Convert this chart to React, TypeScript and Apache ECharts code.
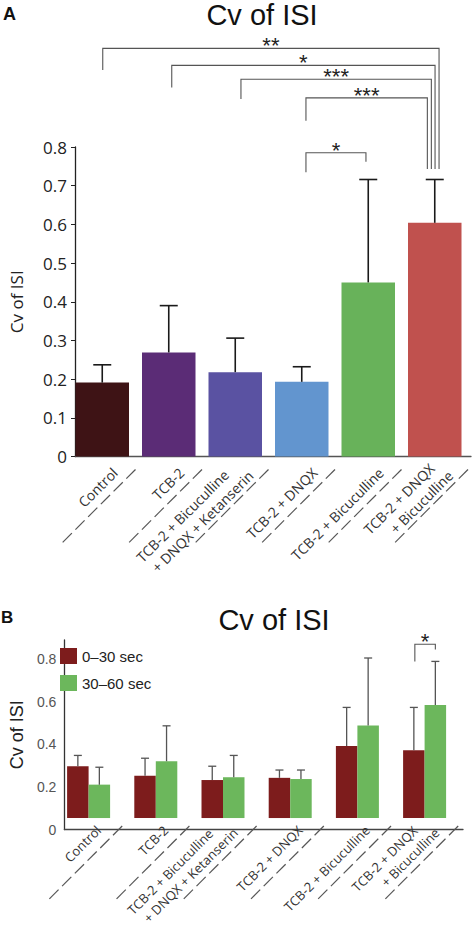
import React, { useEffect, useRef } from 'react';
import * as echarts from 'echarts';

// ---------- data ----------
const categories = [
  'Control',
  'TCB-2',
  'TCB-2 + Bicuculline\n+ DNQX + Ketanserin',
  'TCB-2 + DNQX',
  'TCB-2 + Bicuculline',
  'TCB-2 + DNQX\n+ Bicuculline',
];
const meanA = [0.191, 0.269, 0.218, 0.193, 0.45, 0.604];
const errTopA = [0.237, 0.39, 0.306, 0.232, 0.716, 0.716];
const colorsA = ['#3e1315', '#5b2c76', '#5a52a2', '#6295cf', '#68b25a', '#c0514e'];

const seriesNamesB = ['0\u201330 sec', '30\u201360 sec'];
const mean0to30 = [0.259, 0.212, 0.19, 0.201, 0.36, 0.339];
const errTop0to30 = [0.313, 0.299, 0.259, 0.24, 0.553, 0.553];
const mean30to60 = [0.167, 0.284, 0.204, 0.195, 0.462, 0.565];
const errTop30to60 = [0.254, 0.461, 0.313, 0.24, 0.8, 0.783];
const colorsB = ['#7d1c1c', '#6cb75c'];

// significance brackets: [fromIndex, toIndex, barLevel, leftEnd, rightEnd, label]
const bracketsA: [number, number, number, number, number, string][] = [
  [0, 5, 1.055, 0.999, 0.743, '**'],
  [1, 5, 1.011, 0.954, 0.743, '*'],
  [2, 5, 0.975, 0.924, 0.743, '***'],
  [3, 5, 0.927, 0.868, 0.743, '***'],
  [3, 4, 0.785, 0.735, 0.762, '*'],
];
const bracketsB: [number, number, number, number, number, string][] = [
  [5, 5, 0.869, 0.783, 0.842, '*'],
];

const titleText = 'Cv of ISI';
const yNameA = 'Cv of ISI';
const yNameB = 'Cv of ISI';

// ---------- styling ----------
const BAR_W_A = 53.5;
const BAR_W_B = 21.5;
const NUDGE_A = [
  [0.5, 4.3],
  [3, 0.3],
  [5.7, -3.4],
  [4.2, -7.4],
  [4.2, -2.3],
];
const NUDGE_B = [[-BAR_W_B / 2 + 1, BAR_W_B / 2]];
const LABEL_FONT = '"Open Sans", sans-serif';
const ARIAL = '"Liberation Sans", Arial, sans-serif';

function makeCatFormatter() {
  return (value: string, index: number) => {
    const parts = value.split('\n');
    if (parts.length === 2) return `{${index === 5 ? 'c' : 'a'}|${parts[0]}}\n{b|${parts[1]}}`;
    return `{s|${parts[0]}}`;
  };
}
function makeCatRich(size: number, padA: number, padC: number) {
  const base = { fontSize: size, fontFamily: LABEL_FONT, color: '#333', lineHeight: size + 4 };
  return {
    a: { ...base, padding: [0, padA, 0, 0] },
    c: { ...base, padding: [0, padC, 0, 0] },
    b: { ...base },
    s: { ...base, padding: [10, 0, 0, 0] },
  };
}
function dashFormatter(value: string) {
  if (!value) return '';
  return '{d| }{g| }{d| }{g| }{d| }{g| }{d| }{g| }{d| }{g| }{d| }';
}
const dashRich = {
  d: { width: 13, height: 1.2, backgroundColor: '#555', fontSize: 1, lineHeight: 4 },
  g: { width: 5, fontSize: 1, lineHeight: 4 },
};

function errRender(color: string, lw: number, cap: number, dx: number) {
  return (params: any, api: any) => {
    const x = api.value(0);
    const p0 = api.coord([x, api.value(1)]);
    const p1 = api.coord([x, api.value(2)]);
    const cx = p0[0] + dx;
    return {
      type: 'group',
      children: [
        { type: 'line', shape: { x1: cx, y1: p0[1], x2: cx, y2: p1[1] }, style: { stroke: color, lineWidth: lw } },
        { type: 'line', shape: { x1: cx - cap / 2, y1: p1[1], x2: cx + cap / 2, y2: p1[1] }, style: { stroke: color, lineWidth: lw } },
      ],
    };
  };
}

function bracketRender(list: any[], nudges: number[][], fontSize: number) {
  return (params: any, api: any) => {
    const i = params.dataIndex;
    const [from, to, lvl, le, re, label] = list[i];
    const [nl, nr] = nudges[i];
    const pL = api.coord([from, lvl]);
    const pR = api.coord([to, lvl]);
    const xL = pL[0] + nl;
    const xR = pR[0] + nr;
    const y = pL[1];
    const yl = api.coord([from, le])[1];
    const yr = api.coord([to, re])[1];
    return {
      type: 'group',
      children: [
        {
          type: 'polyline',
          shape: { points: [[xL, yl], [xL, y], [xR, y], [xR, yr]] },
          style: { stroke: '#555', lineWidth: 1.1, fill: null },
        },
        {
          type: 'text',
          x: (xL + xR) / 2,
          y: y - 2.5,
          style: { text: label, fontSize, fontFamily: ARIAL, fill: '#222', align: 'center', verticalAlign: 'middle' },
        },
      ],
    };
  };
}

export default function App() {
  const ref = useRef<HTMLDivElement>(null);
  useEffect(() => {
    if (!ref.current) return;
    const chart = echarts.init(ref.current, undefined, { renderer: 'svg' });
    const dashCats = ['', ...categories.map(() => 'd')];
    const hiddenLine = { show: false };
    const option: any = {
      animation: false,
      backgroundColor: '#fff',
      graphic: [
        { type: 'text', x: 3, y: 14, style: { text: 'A', fontSize: 18, fontWeight: 'bold', fontFamily: ARIAL, fill: '#111', verticalAlign: 'middle' } },
        { type: 'text', x: 262, y: 15, style: { text: titleText, fontSize: 29, fontFamily: ARIAL, fill: '#111', align: 'center', verticalAlign: 'middle' } },
        { type: 'text', x: 1, y: 617, style: { text: 'B', fontSize: 17, fontWeight: 'bold', fontFamily: ARIAL, fill: '#111', verticalAlign: 'middle' } },
        { type: 'text', x: 274, y: 620, style: { text: titleText, fontSize: 29, fontFamily: ARIAL, fill: '#111', align: 'center', verticalAlign: 'middle' } },
      ],
      legend: {
        data: seriesNamesB,
        orient: 'vertical',
        left: 60,
        top: 648,
        padding: 0,
        itemWidth: 17,
        itemHeight: 16,
        itemGap: 11,
        icon: 'rect',
        textStyle: { fontSize: 15, fontFamily: ARIAL, color: '#222' },
      },
      grid: [
        { left: 69, top: 147, width: 399, height: 309.5 },
        { left: 60, top: 147, width: 411, height: 309.5 },
        { left: 55, top: 640, width: 403.2, height: 189.5 },
        { left: 51, top: 640, width: 412, height: 189.5 },
      ],
      xAxis: [
        {
          gridIndex: 0, type: 'category', data: categories, position: 'bottom',
          axisLine: hiddenLine, axisTick: hiddenLine,
          axisLabel: { interval: 0, rotate: 45, margin: 1, padding: [26, 0, 0, 0], formatter: makeCatFormatter(), rich: makeCatRich(14, 17, 8) },
        },
        {
          gridIndex: 0, type: 'category', data: dashCats, boundaryGap: false, position: 'bottom',
          axisLine: hiddenLine, axisTick: hiddenLine,
          axisLabel: { interval: 0, rotate: 45, margin: 13, formatter: dashFormatter, rich: dashRich },
        },
        {
          gridIndex: 1, type: 'value', min: 0, max: 1, position: 'bottom',
          axisLine: { show: true, lineStyle: { color: '#555', width: 1.3 } },
          axisTick: hiddenLine, axisLabel: hiddenLine, splitLine: hiddenLine,
        },
        {
          gridIndex: 2, type: 'category', data: categories, position: 'bottom',
          axisLine: hiddenLine, axisTick: hiddenLine,
          axisLabel: { interval: 0, rotate: 45, margin: 0, padding: [18, 0, 0, 0], formatter: makeCatFormatter(), rich: makeCatRich(13, 18, 14) },
        },
        {
          gridIndex: 2, type: 'category', data: dashCats, boundaryGap: false, position: 'bottom',
          axisLine: hiddenLine, axisTick: hiddenLine,
          axisLabel: { interval: 0, rotate: 45, margin: 8, formatter: dashFormatter, rich: dashRich },
        },
        {
          gridIndex: 3, type: 'value', min: 0, max: 1, position: 'bottom',
          axisLine: { show: true, lineStyle: { color: '#444', width: 1.3 } },
          axisTick: hiddenLine, axisLabel: hiddenLine, splitLine: hiddenLine,
        },
      ],
      yAxis: [
        { gridIndex: 0, type: 'value', min: 0, max: 0.8, show: false },
        {
          gridIndex: 1, type: 'value', min: 0, max: 0.8, interval: 0.1,
          axisLine: { show: true, lineStyle: { color: '#222', width: 1.3 } },
          axisTick: { show: true, length: 4, lineStyle: { color: '#222' } },
          axisLabel: { fontSize: 17, fontFamily: LABEL_FONT, color: '#222', margin: 8 },
          splitLine: hiddenLine,
          name: yNameA, nameLocation: 'middle', nameGap: 50,
          nameTextStyle: { fontSize: 17, fontFamily: LABEL_FONT, color: '#222' },
        },
        { gridIndex: 2, type: 'value', min: 0, max: 0.89, show: false },
        {
          gridIndex: 3, type: 'value', min: 0, max: 0.89, interval: 0.2,
          axisLine: { show: true, lineStyle: { color: '#333', width: 1.3 } },
          axisTick: hiddenLine,
          axisLabel: { fontSize: 14, fontFamily: ARIAL, color: '#555', margin: 8, showMaxLabel: false },
          splitLine: hiddenLine,
          name: yNameB, nameLocation: 'middle', nameGap: 38,
          nameTextStyle: { fontSize: 18, fontFamily: ARIAL, color: '#222' },
        },
      ],
      series: [
        {
          type: 'bar', xAxisIndex: 0, yAxisIndex: 0, barWidth: BAR_W_A,
          data: meanA.map((v, i) => ({ value: v, itemStyle: { color: colorsA[i] } })),
        },
        {
          type: 'custom', xAxisIndex: 0, yAxisIndex: 0, z: 3,
          renderItem: errRender('#1a1a1a', 1.6, 18, 0),
          data: meanA.map((v, i) => [i, v, errTopA[i]]),
        },
        {
          type: 'custom', xAxisIndex: 0, yAxisIndex: 0, z: 3,
          renderItem: bracketRender(bracketsA, NUDGE_A, 22),
          data: bracketsA.map((b) => [b[0], b[2]]),
        },
        {
          type: 'bar', name: seriesNamesB[0], xAxisIndex: 3, yAxisIndex: 2, barWidth: BAR_W_B, barGap: '0%',
          itemStyle: { color: colorsB[0] }, data: mean0to30,
        },
        {
          type: 'bar', name: seriesNamesB[1], xAxisIndex: 3, yAxisIndex: 2, barWidth: BAR_W_B, barGap: '0%',
          itemStyle: { color: colorsB[1] }, data: mean30to60,
        },
        {
          type: 'custom', xAxisIndex: 3, yAxisIndex: 2, z: 3,
          renderItem: errRender('#555', 1.3, 8, -BAR_W_B / 2),
          data: mean0to30.map((v, i) => [i, v, errTop0to30[i]]),
        },
        {
          type: 'custom', xAxisIndex: 3, yAxisIndex: 2, z: 3,
          renderItem: errRender('#555', 1.3, 8, BAR_W_B / 2),
          data: mean30to60.map((v, i) => [i, v, errTop30to60[i]]),
        },
        {
          type: 'custom', xAxisIndex: 3, yAxisIndex: 2, z: 3,
          renderItem: bracketRender(bracketsB, NUDGE_B, 22),
          data: bracketsB.map((b) => [b[0], b[2]]),
        },
      ],
    };
    chart.setOption(option);
    return () => chart.dispose();
  }, []);
  return (
    <div
      ref={ref}
      style={{ position: 'fixed', left: 0, top: 0, width: 475, height: 931, background: '#fff' }}
    />
  );
}
